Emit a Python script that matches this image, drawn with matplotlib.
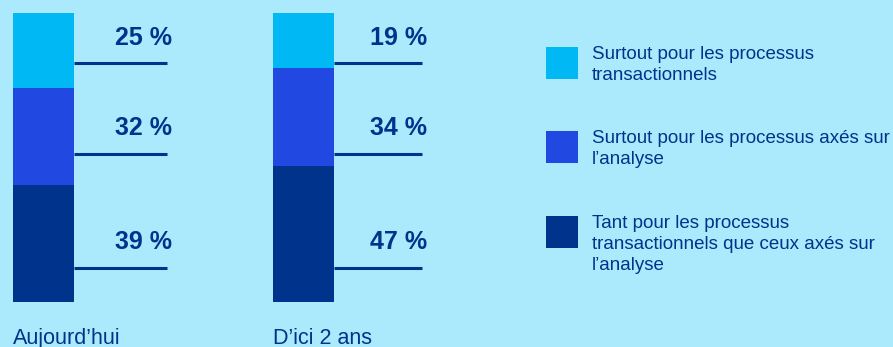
import numpy as np
import matplotlib.pyplot as plt
from matplotlib.patches import Rectangle

plt.rcParams['font.family'] = ['Liberation Sans', 'DejaVu Sans']

# data
categories = ["Aujourd\u2019hui", "D\u2019ici 2 ans"]
series_names = [
    "Tant pour les processus\ntransactionnels que ceux axés sur\nl\u2019analyse",
    "Surtout pour les processus axés sur\nl\u2019analyse",
    "Surtout pour les processus\ntransactionnels",
]
# bottom -> top
values = np.array([
    [39, 47],
    [32, 34],
    [25, 19],
])
colors = ['#00338C', '#2148E0', '#00B9F4']
bg = '#ABE9FC'
navy = '#00338C'

W, H = 893, 347
fig = plt.figure(figsize=(W / 100, H / 100), dpi=100)
fig.patch.set_facecolor(bg)
ax = fig.add_axes([0, 0, 1, 1])
ax.set_facecolor(bg)

# scale: one category step = 260 px, 100 % = 289 px
step = 260.0
ax.set_xlim(-43.5 / step, (W - 43.5) / step)
ax.set_ylim(-(H - 302) / 2.89, 100 + 13 / 2.89)
ax.axis('off')

x = np.arange(len(categories))
bw = 61 / step
shares = values / values.sum(axis=0) * 100
bottom = np.zeros(len(categories))
for i in range(len(values)):
    ax.bar(x, shares[i], bw, bottom=bottom, color=colors[i], linewidth=0)
    bottom += shares[i]

# label lines + values (fixed slots, top to bottom)
line_y = [82.7, 51.3, 11.9]
text_y = [91.3, 60.2, 20.9]
line_end = [0.475, 0.456]
for j in range(len(categories)):
    for k, i in enumerate([2, 1, 0]):
        ax.plot([x[j] + bw / 2, x[j] + line_end[j]], [line_y[k], line_y[k]],
                color=navy, lw=2.2, solid_capstyle='butt')
        ax.text(x[j] + line_end[j] + 0.019, text_y[k], f"{values[i][j]} %", ha='right',
                va='center', fontsize=18, fontweight='bold', color=navy)
    ax.text(x[j] - bw / 2, -12.8, categories[j], ha='left', va='center',
            fontsize=15.5, color=navy)

# legend
leg_top = [47, 131, 216]
for k, i in enumerate([2, 1, 0]):
    fig.add_artist(Rectangle((546 / W, 1 - (leg_top[k] + 32) / H), 32 / W, 32 / H,
                             transform=fig.transFigure, color=colors[i], lw=0))
    fig.text(592 / W, 1 - (leg_top[k] - 1) / H, series_names[i], ha='left', va='top',
             fontsize=13.5, color=navy, linespacing=1.3)

fig.savefig('out.png', dpi=100, facecolor=bg)
